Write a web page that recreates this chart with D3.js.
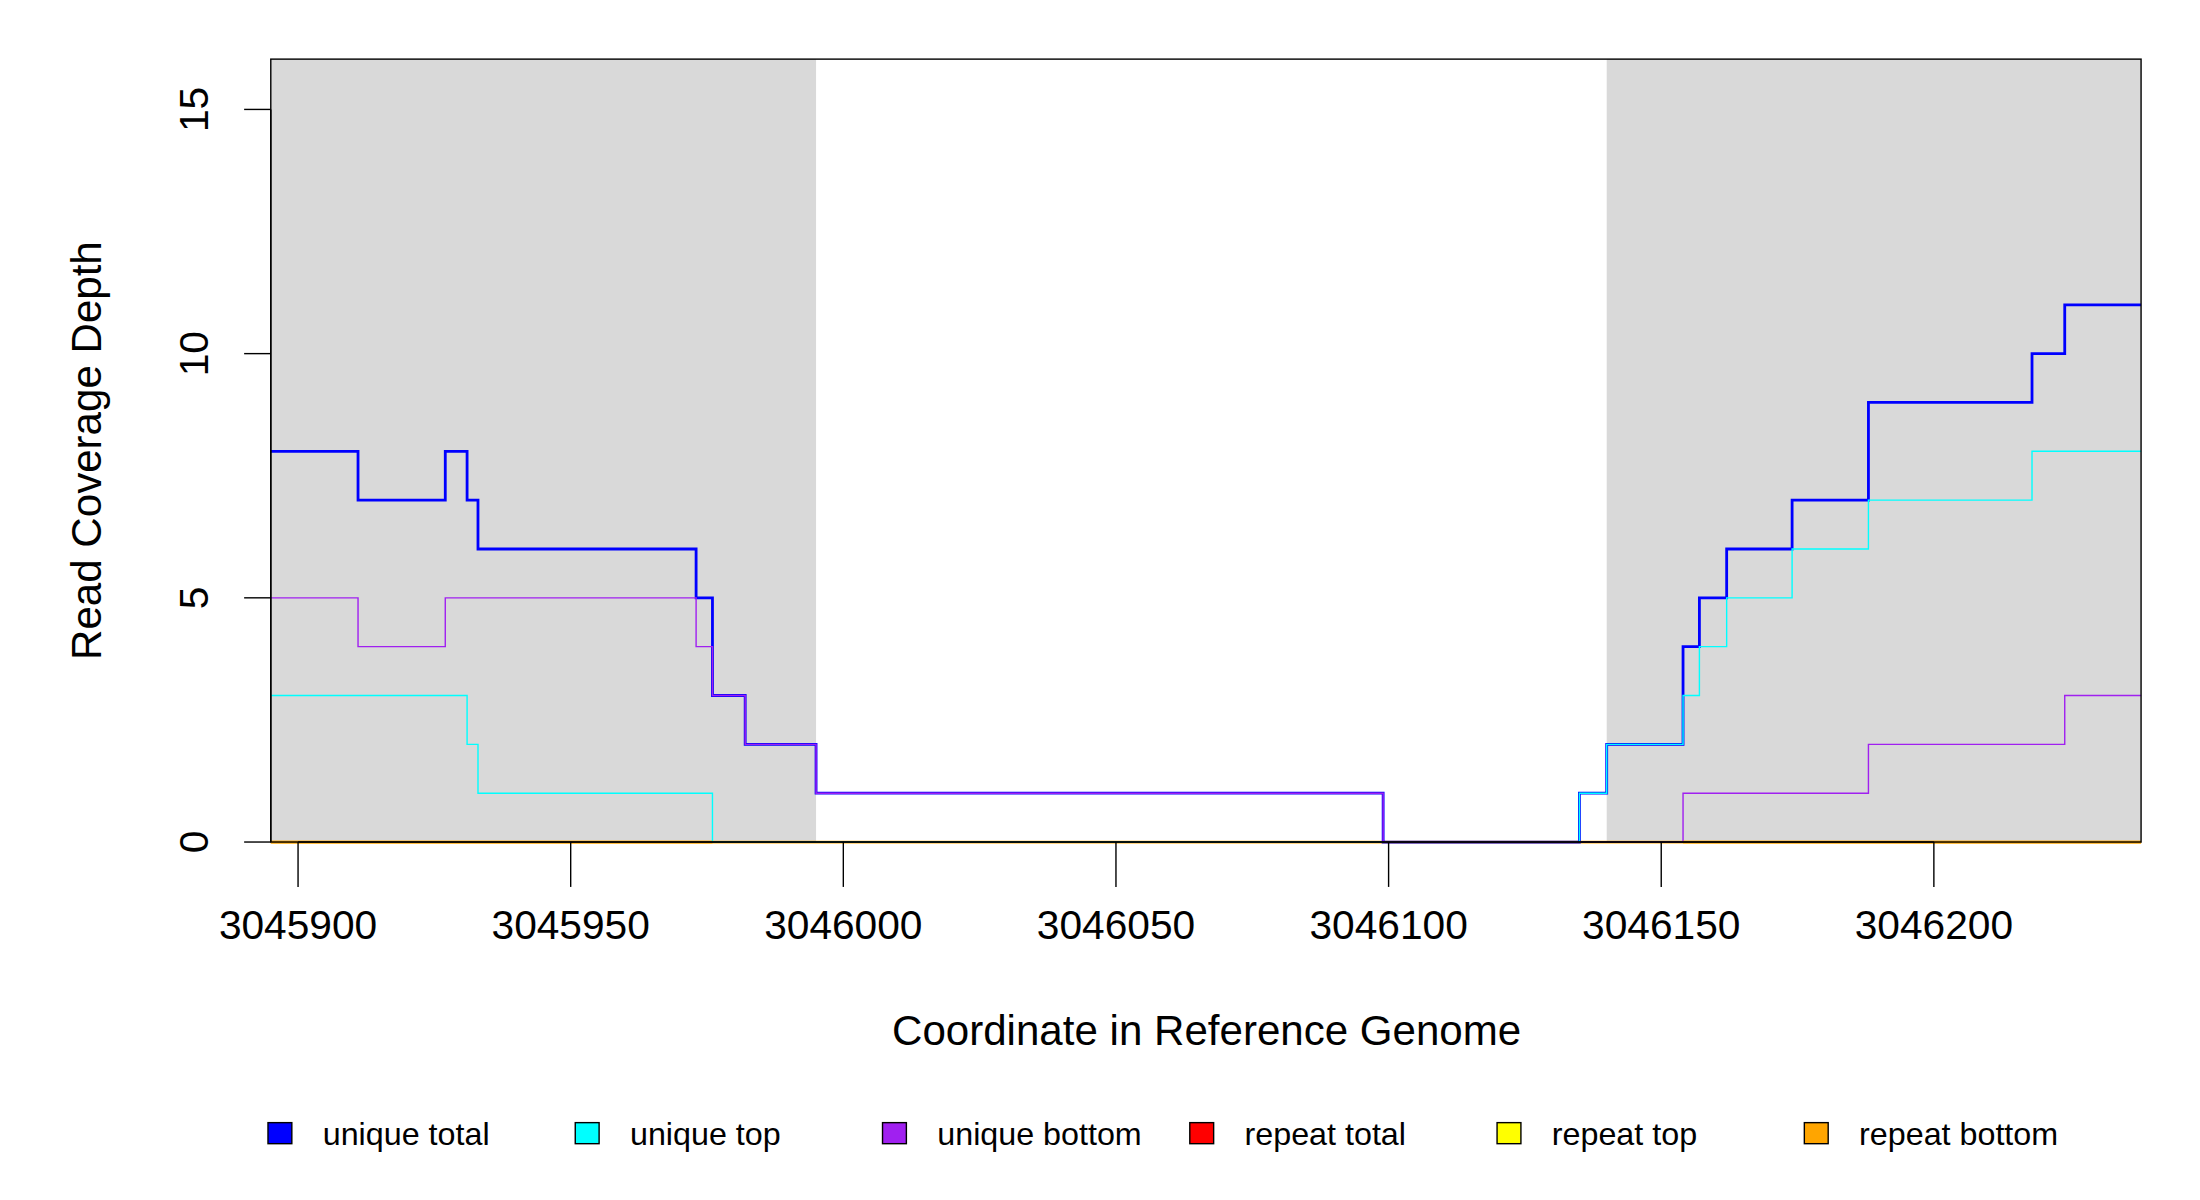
<!DOCTYPE html>
<html><head><meta charset="utf-8">
<script src="https://cdn.jsdelivr.net/npm/d3@7"></script>
<style>body{margin:0;background:#fff}text{font-family:"Liberation Sans",Arial,sans-serif}</style>
</head><body>
<svg id="chart" width="2200" height="1200" viewBox="0 0 1568 855"></svg>
<script>
// step breakpoints (genome coordinate where each value begins)
var xStart = 3045895, xEnd = 3046238;
var totalX = [3045895, 3045911, 3045927, 3045931, 3045933, 3045973, 3045976, 3045982, 3045995, 3046099, 3046135, 3046140, 3046154, 3046157, 3046162, 3046174, 3046188, 3046218, 3046224];
var totalY = [8, 7, 8, 7, 6, 5, 3, 2, 1, 0, 1, 2, 4, 5, 6, 7, 9, 10, 11];
var topX = [3045895, 3045931, 3045933, 3045976, 3046135, 3046140, 3046154, 3046157, 3046162, 3046174, 3046188, 3046218];
var topY = [3, 2, 1, 0, 1, 2, 3, 4, 5, 6, 7, 8];
var bottomX = [3045895, 3045911, 3045927, 3045973, 3045976, 3045982, 3045995, 3046099, 3046154, 3046188, 3046224];
var bottomY = [5, 4, 5, 4, 3, 2, 1, 0, 1, 2, 3];
var repeatX = [3045895];
var repeatY = [0];
var shaded = [[3045895, 3045995], [3046140, 3046238]];
var xTicks = [3045900, 3045950, 3046000, 3046050, 3046100, 3046150, 3046200];
var yTicks = [0, 5, 10, 15];
var legendNames = ["unique total", "unique top", "unique bottom", "repeat total", "repeat top", "repeat bottom"];
var legendColors = ["#0000ff", "#00ffff", "#a020f0", "#ff0000", "#ffff00", "#ffa500"];

var svg = d3.select("#chart");
var L = 193, R = 1526, T = 42, B = 600;
var x = d3.scaleLinear().domain([xStart, xEnd]).range([L, R]);
var y = d3.scaleLinear().domain([0, 16.03]).range([B, T]);

svg.selectAll("rect.shade").data(shaded).enter().append("rect")
    .attr("x", function (d) { return x(d[0]); })
    .attr("width", function (d) { return x(d[1]) - x(d[0]); })
    .attr("y", T).attr("height", B - T)
    .attr("fill", "#d9d9d9");

function stepPts(xs, ys) {
    var pts = [];
    for (var i = 0; i < xs.length; i++) pts.push([xs[i], ys[i]]);
    pts.push([xEnd, ys[ys.length - 1]]);
    return pts;
}
var line = d3.line().x(function (d) { return x(d[0]); })
    .y(function (d) { return y(d[1]); }).curve(d3.curveStepAfter);

var series = [
    {pts: stepPts(repeatX, repeatY), c: legendColors[3], w: 1},
    {pts: stepPts(repeatX, repeatY), c: legendColors[4], w: 1},
    {pts: stepPts(repeatX, repeatY), c: legendColors[5], w: 2},
    {pts: stepPts(totalX, totalY), c: legendColors[0], w: 2},
    {pts: stepPts(topX, topY), c: legendColors[1], w: 1},
    {pts: stepPts(bottomX, bottomY), c: legendColors[2], w: 1}
];
series.forEach(function (s) {
    svg.append("path").attr("d", line(s.pts)).attr("fill", "none")
        .attr("stroke", s.c).attr("stroke-width", s.w);
});
// repeat bottom drawn on top where unique lines are above zero
svg.append("path").attr("d", line([[xStart, 0], [3045976, 0]])).attr("fill", "none")
    .attr("stroke", legendColors[5]).attr("stroke-width", 2);
svg.append("path").attr("d", line([[3046154, 0], [xEnd, 0]])).attr("fill", "none")
    .attr("stroke", legendColors[5]).attr("stroke-width", 2);

svg.append("rect").attr("x", L).attr("y", T).attr("width", R - L).attr("height", B - T)
    .attr("fill", "none").attr("stroke", "#000").attr("stroke-width", 1);

// x axis
var xa = svg.append("g");
xa.append("line").attr("x1", x(xTicks[0])).attr("x2", x(xTicks[xTicks.length - 1]))
    .attr("y1", B).attr("y2", B).attr("stroke", "#000");
xTicks.forEach(function (t) {
    xa.append("line").attr("x1", x(t)).attr("x2", x(t)).attr("y1", B).attr("y2", B + 32).attr("stroke", "#000");
    xa.append("text").attr("x", x(t)).attr("y", 669).attr("text-anchor", "middle")
        .attr("font-size", 29).text(t);
});
// y axis
var ya = svg.append("g");
ya.append("line").attr("x1", L).attr("x2", L).attr("y1", y(0)).attr("y2", y(15)).attr("stroke", "#000");
yTicks.forEach(function (t) {
    ya.append("line").attr("x1", L - 19).attr("x2", L).attr("y1", y(t)).attr("y2", y(t)).attr("stroke", "#000");
    ya.append("text").attr("transform", "translate(148," + y(t) + ") rotate(-90)")
        .attr("text-anchor", "middle").attr("font-size", 29).text(t);
});
svg.append("text").attr("x", 860).attr("y", 745).attr("text-anchor", "middle")
    .attr("font-size", 30).text("Coordinate in Reference Genome");
svg.append("text").attr("transform", "translate(72,321) rotate(-90)")
    .attr("text-anchor", "middle").attr("font-size", 30).text("Read Coverage Depth");

// legend
var lg = svg.selectAll("g.leg").data(legendNames).enter().append("g")
    .attr("transform", function (d, i) { return "translate(" + (191 + i * 219) + ",800)"; });
lg.append("rect").attr("width", 17).attr("height", 15)
    .attr("fill", function (d, i) { return legendColors[i]; }).attr("stroke", "#000");
lg.append("text").attr("x", 39).attr("y", 16).attr("font-size", 23).text(function (d) { return d; });
</script>
</body></html>
